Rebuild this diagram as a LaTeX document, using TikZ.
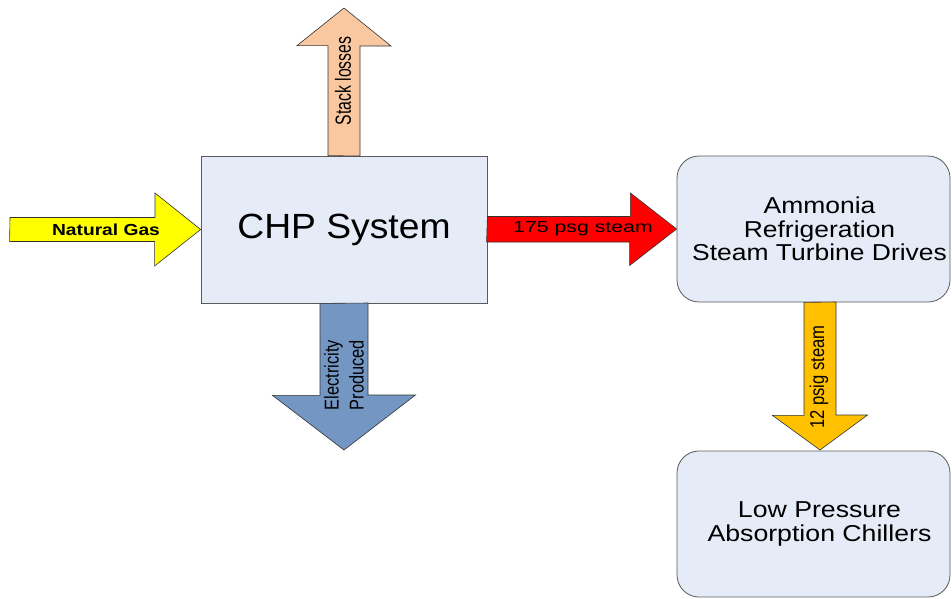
\documentclass[tikz,border=0pt]{standalone}
\usepackage{fontspec}
\setmainfont{Liberation Sans}
\usepackage{tikz}
\usetikzlibrary{positioning}
\usetikzlibrary{calc}
\definecolor{boxfill}{RGB}{230,236,247}
\definecolor{boxline}{RGB}{90,90,90}
\definecolor{gasyellow}{RGB}{255,255,0}
\definecolor{stackpeach}{RGB}{250,200,160}
\definecolor{elecblue}{RGB}{116,150,194}
\definecolor{hpred}{RGB}{255,0,0}
\definecolor{lpamber}{RGB}{255,192,0}

\begin{document}
\begin{tikzpicture}[x=1pt,y=-1pt]
\tikzset{box/.style={rectangle,draw=boxline,fill=boxfill,line width=0.8pt,align=center,inner sep=0pt},
  flow/.style={draw=black!80,line width=0.6pt,line join=miter},
  flowtext/.style={inner sep=0pt,align=center}}
\useasboundingbox (0,0) rectangle (952,598);
\node [box,minimum width=286pt,minimum height=147pt,font=\fontsize{35}{36}\selectfont\addfontfeature{FakeStretch=1.065}](chp) at (344,229.5) {CHP System};
\node [box,rounded corners=22pt,minimum width=273pt,minimum height=146pt](amm) at (813.5,229) {};
\node [flowtext,font=\fontsize{23}{23.5}\selectfont\addfontfeature{FakeStretch=1.15}](ammt) at ($(amm)+(6,0)$) {Ammonia\\Refrigeration\\Steam Turbine Drives};
\node [box,rounded corners=22pt,minimum width=273pt,minimum height=146pt](lpc) at (813.5,524) {};
\node [flowtext,font=\fontsize{23}{24}\selectfont\addfontfeature{FakeStretch=1.16}](lpct) at ($(lpc)+(6,0)$) {Low Pressure\\Absorption Chillers};
% free ends of the block arrows
\coordinate (ng) at (10,229.5);
\coordinate (stack) at (344,8);
\coordinate (elec) at (344,450);
\coordinate (lps) at ($(amm.south)+(6.5,0)$);
\coordinate (lpt) at (820,450);
% natural gas in
\draw [flow,fill=gasyellow] (ng) ++(0,-12) -- ++(145,0) -- ++(0,-24.5) -- (chp.west) -- ++(-46,36.5) -- ++(0,-24.5) -- ++(-145,0) -- cycle;
\node [flowtext,font=\bfseries\fontsize{16}{17}\selectfont\addfontfeature{FakeStretch=1.2}](ngt) at (106,229.5) {Natural Gas};
% stack losses out
\draw [flow,fill=stackpeach] (chp.north) ++(-16,0) -- ++(0,-110) -- ++(-31,0) -- (stack) -- ++(47,38) -- ++(-31,0) -- ++(0,110) -- cycle;
\node [flowtext,rotate=90,font=\fontsize{22}{23}\selectfont\addfontfeature{FakeStretch=0.72}](stackt) at (343,81) {Stack losses};
% electricity out
\draw [flow,fill=elecblue] (chp.south) ++(-24,0) -- ++(0,92) -- ++(-47.5,0) -- (elec) -- ++(71.5,-55) -- ++(-47.5,0) -- ++(0,-92) -- cycle;
\node [flowtext,rotate=90,font=\fontsize{20}{25}\selectfont\addfontfeature{FakeStretch=0.82}](elect) at (344,375) {Electricity\\Produced};
% high pressure steam
\draw [flow,fill=hpred] (chp.east) ++(0,-13) -- ++(143,0) -- ++(0,-23.5) -- (amm.west) -- ++(-47,36.5) -- ++(0,-23.5) -- ++(-143,0) -- cycle;
\node [flowtext,font=\fontsize{16}{17}\selectfont\addfontfeature{FakeStretch=1.33}](hpt) at (583,229) {175 psg steam};
% low pressure steam
\draw [flow,fill=lpamber] (lps) ++(-16,0) -- ++(0,113) -- ++(-31.5,0) -- (lpt) -- ++(47.5,-35) -- ++(-31.5,0) -- ++(0,-113) -- cycle;
\node [flowtext,rotate=90,font=\fontsize{20}{21}\selectfont\addfontfeature{FakeStretch=0.83}](lpst) at (819,377) {12 psig steam};
\end{tikzpicture}
\end{document}
